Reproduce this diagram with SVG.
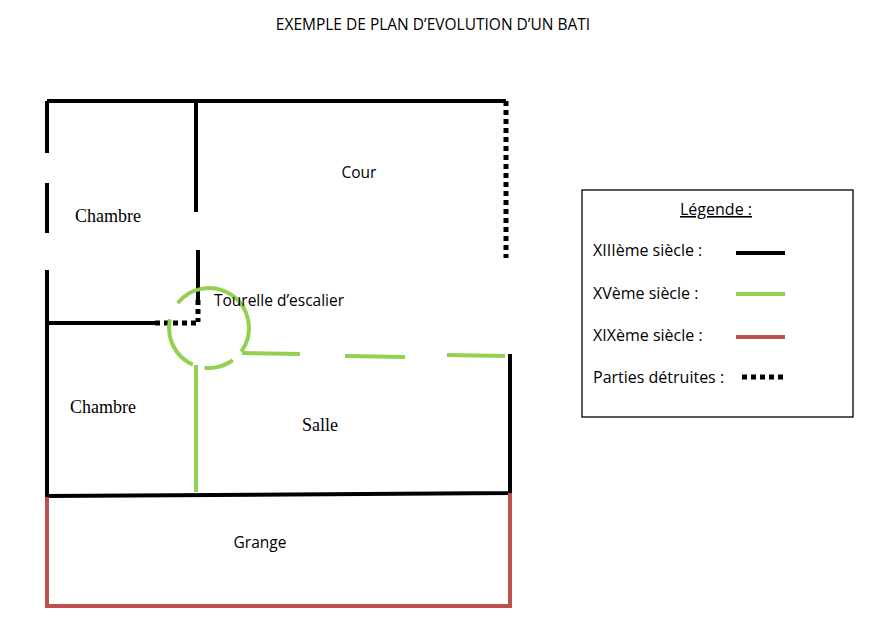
<svg xmlns="http://www.w3.org/2000/svg" width="890" height="642" viewBox="0 0 890 642">
<style>
.b{stroke:#000;stroke-width:4;fill:none}
.d{stroke:#000;stroke-width:5;fill:none;stroke-dasharray:5 4}
.g{stroke:#92d050;stroke-width:4;fill:none}
.r{stroke:#c0504d;stroke-width:4;fill:none}
.t{font-family:"Open Sans","Liberation Sans",sans-serif;font-size:15.5px;fill:#000}
.l{font-family:"Open Sans","Liberation Sans",sans-serif;font-size:16px;fill:#000}
.s{font-family:"Liberation Serif","Times New Roman",serif;font-size:18px;fill:#000}
</style>
<rect width="890" height="642" fill="#fff"/>
<text class="t" x="433" y="30" text-anchor="middle">EXEMPLE DE PLAN D’EVOLUTION D’UN BATI</text>
<g id="walls">
<path class="b" d="M47,101H506M47,101V153M47,183V233M47,270V497M196,101V212M198,250V300M47,323H155M510,354V493M47,496L510,493"/>
<path class="d" d="M198,300V322M155,323H198M506,101V258"/>
<path class="g" d="M242,353L300,354M345,356L405,357M447,355L505,356M196,365V492"/>
<circle class="g" cx="209" cy="328" r="40" stroke-dasharray="95 12 30 12 55 18 30 200" transform="rotate(-100 209 328)"/>
<path class="r" d="M47,497V606H510V493"/>
</g>
<text class="t" x="359" y="178" text-anchor="middle">Cour</text>
<text class="s" x="108" y="222" text-anchor="middle">Chambre</text>
<text class="t" x="279" y="306" text-anchor="middle">Tourelle d’escalier</text>
<text class="s" x="103" y="413" text-anchor="middle">Chambre</text>
<text class="s" x="320" y="431" text-anchor="middle">Salle</text>
<text class="t" x="260" y="548" text-anchor="middle">Grange</text>
<g id="legend">
<rect x="582" y="190" width="271" height="227" fill="#fff" stroke="#000" stroke-width="1.3"/>
<text class="l" x="716" y="215" text-anchor="middle" text-decoration="underline">Légende :</text>
<text class="l" x="593" y="256">XIIIème siècle :</text>
<text class="l" x="593" y="299">XVème siècle :</text>
<text class="l" x="593" y="341">XIXème siècle :</text>
<text class="l" x="593" y="383">Parties détruites :</text>
<path class="b" d="M736,253H785"/>
<path class="g" d="M736,294H785"/>
<path class="r" d="M736,337H785"/>
<path class="d" d="M742,377H787"/>
</g>
</svg>
